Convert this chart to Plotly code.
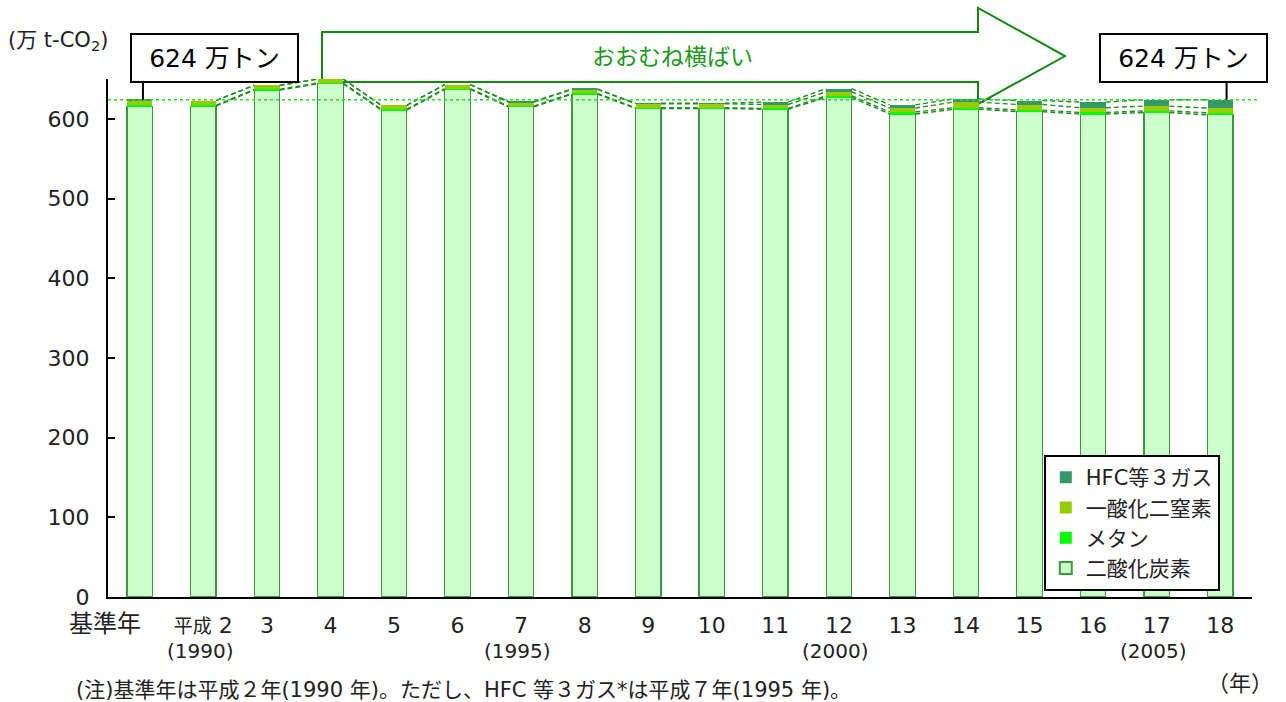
import plotly.graph_objects as go

categories = ["基準年", "平成 2", "3", "4", "5", "6", "7", "8", "9", "10",
              "11", "12", "13", "14", "15", "16", "17", "18"]
western = ["", "(1990)", "", "", "", "", "(1995)", "", "", "", "", "(2000)", "", "", "", "", "(2005)", ""]
co2 = [616, 616, 636, 644, 611, 637, 615, 631, 613, 613, 612, 627, 606, 612, 609, 606, 608, 605]
ch4 = [1, 1, 1, 1, 1, 1, 1, 1, 1, 1, 1, 2, 2.5, 2, 2, 2, 2, 2.5]
n2o = [6, 6, 5, 5, 5, 5, 5, 5, 5, 5, 5, 5, 5, 7, 7, 6, 6, 6]
hfc = [1, 0, 0, 0, 0, 0, 1, 0.5, 0.5, 0.5, 3, 4, 4, 4, 5, 7, 8, 10.5]
series_names = ["二酸化炭素", "メタン", "一酸化二窒素", "HFC等３ガス"]
series_vals = [co2, ch4, n2o, hfc]
colors = ["#CCFFCC", "#00FF00", "#99CC00", "#339966"]
line_colors = ["#3A9A3A", "#00FF00", "#99CC00", "#339966"]
base_label = "624 万トン"

FONT = "DejaVu Sans, Noto Sans CJK JP"
TXT = "#222222"
xs = list(range(len(categories)))
bw = 0.4

fig = go.Figure()
for name, vals, c, lc in zip(series_names, series_vals, colors, line_colors):
    fig.add_trace(go.Bar(x=xs, y=vals, name=name, width=bw,
                         marker=dict(color=c, line=dict(color=lc, width=1.2 if name == "二酸化炭素" else 0))))

# series lines (Excel style) between adjacent bars, from 平成2 onward
cum = [0] * len(xs)
for vals in series_vals:
    cum = [a + b for a, b in zip(cum, vals)]
    lx, ly = [], []
    for i in range(1, len(xs) - 1):
        lx += [xs[i] + bw / 2, xs[i + 1] - bw / 2, None]
        ly += [cum[i], cum[i + 1], None]
    fig.add_trace(go.Scatter(x=lx, y=ly, mode="lines", showlegend=False, hoverinfo="skip",
                             line=dict(color="#1E8C1E", width=1.4, dash="5px,3px")))

totals = cum


def fmt_tick(c):
    if c == "基準年":
        return ""  # drawn separately (offset to the left in the original)
    if c.startswith("平成"):
        return "<span style='font-size:19px'>平成</span>" + c[2:]
    return c


ticktext = [fmt_tick(c) for c in categories]

fig.update_layout(
    width=1286, height=702,
    margin=dict(l=108, r=34, t=79, b=105, autoexpand=False),
    paper_bgcolor="white", plot_bgcolor="white",
    barmode="stack",
    font=dict(family=FONT, color=TXT),
    showlegend=True,
    legend=dict(x=0.818, y=0.274, xanchor="left", yanchor="top", traceorder="reversed",
                bgcolor="white", bordercolor="black", borderwidth=2,
                font=dict(size=21, family=FONT, color=TXT), itemsizing="constant",
                tracegroupgap=0),
    xaxis=dict(range=[-0.5, len(xs) - 0.5], tickvals=xs, ticktext=ticktext, showgrid=False,
               zeroline=False, showline=True, linecolor="black", linewidth=2, ticks="",
               tickangle=0, ticklabelstandoff=8,
               tickfont=dict(size=22, family=FONT, color=TXT)),
    yaxis=dict(range=[0, 650], tickvals=[0, 100, 200, 300, 400, 500, 600], showgrid=False,
               zeroline=False, showline=True, linecolor="black", linewidth=2,
               ticks="inside", ticklen=7, tickwidth=2, tickcolor="black",
               ticklabelstandoff=12,
               tickfont=dict(size=22, family=FONT, color=TXT)),
)

# reference dotted line at base-year total
fig.add_shape(type="line", xref="paper", yref="y", x0=0, x1=1.005, y0=totals[0], y1=totals[0],
              line=dict(color="#22E022", width=1.5, dash="dot"), layer="above")


def px(x):
    return (x - 108) / 1144


def py(y):
    return (597 - y) / 518


# base-year category label
fig.add_annotation(xref="paper", yref="paper", x=px(105), y=py(624), xanchor="center", yanchor="middle",
                   text=categories[0], showarrow=False, font=dict(size=24, color=TXT, family=FONT))

# Western-year sub-labels under the category ticks
for x, w in zip(xs, western):
    if w:
        fig.add_annotation(xref="x", yref="paper", x=x - 0.05, y=py(651), xanchor="center", yanchor="middle",
                           text=w, showarrow=False, font=dict(size=20, color=TXT, family=FONT))

# big hollow arrow
pts = [(322, 32), (978, 32), (978, 8), (1065, 56), (978, 104), (978, 82), (322, 82)]
path = "M " + " L ".join(f"{px(a):.5f},{py(b):.5f}" for a, b in pts) + " Z"
fig.add_shape(type="path", xref="paper", yref="paper", path=path,
              line=dict(color="#108A10", width=2), fillcolor="white", layer="below")
fig.add_annotation(xref="paper", yref="paper", x=px(672), y=py(57), xanchor="center", yanchor="middle",
                   text="おおむね横ばい", showarrow=False,
                   font=dict(size=23, color="#1A9A1A", family=FONT))

# callout boxes
for idx, cx, lx in [(0, 214, 0.05), (len(xs) - 1, 1183, len(xs) - 1 + 0.1)]:
    fig.add_shape(type="line", xref="x", yref="y", x0=lx, x1=lx, y0=totals[idx], y1=646,
                  line=dict(color="black", width=2))
    fig.add_annotation(xref="paper", yref="paper", x=px(cx), y=py(58), xanchor="center", yanchor="middle",
                       text=base_label, showarrow=False, width=163, height=44, borderpad=1,
                       bordercolor="black", borderwidth=2, bgcolor="white",
                       font=dict(size=25, color="black", family=FONT))

# y-axis unit
fig.add_annotation(xref="paper", yref="paper", x=px(6), y=py(41), xanchor="left", yanchor="middle",
                   text="(万 t-CO<sub>2</sub>)", showarrow=False,
                   font=dict(size=21, color=TXT, family=FONT))
# note and year unit
fig.add_annotation(xref="paper", yref="paper", x=px(74), y=py(690), xanchor="left", yanchor="middle",
                   text="(注)基準年は平成２年(1990 年)。ただし、HFC 等３ガス*は平成７年(1995 年)。",
                   showarrow=False, font=dict(size=21, color=TXT, family=FONT))
fig.add_annotation(xref="paper", yref="paper", x=px(1240), y=py(683), xanchor="center", yanchor="middle",
                   text="（年）", showarrow=False, font=dict(size=22, color=TXT, family=FONT))

fig.write_html("out.html", config={"displayModeBar": False},
               post_script="document.body.style.margin='0';")
